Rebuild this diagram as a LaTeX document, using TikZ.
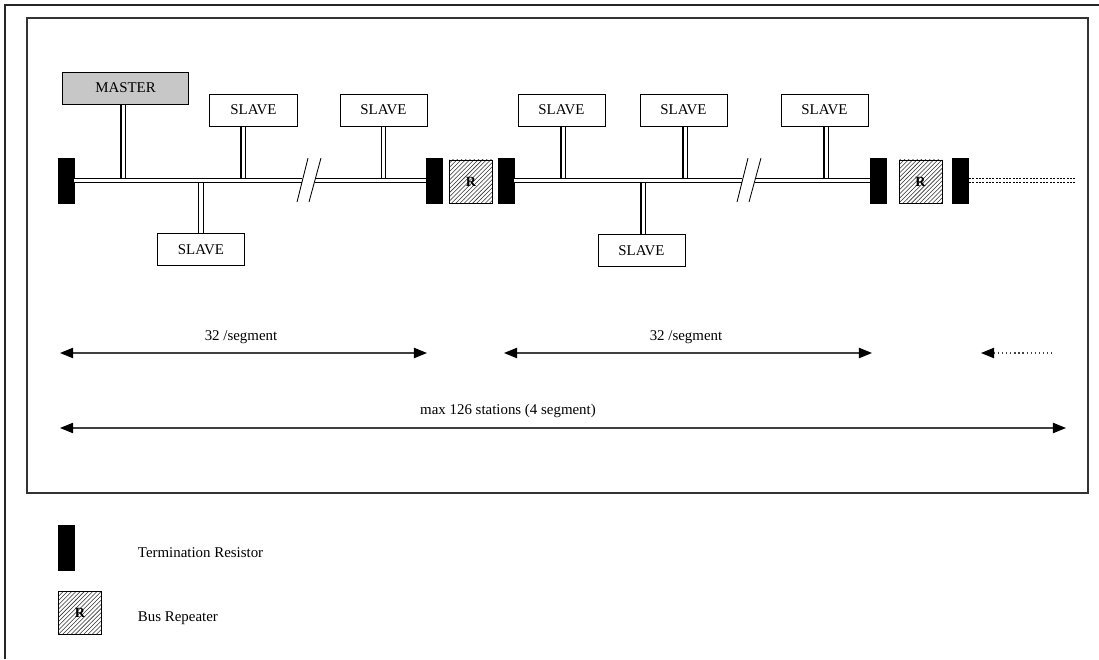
\documentclass[tikz,border=0pt]{standalone}
\usepackage{fontspec}
\setmainfont{Liberation Serif}
\usetikzlibrary{arrows.meta,patterns}

\tikzset{
  term/.style={draw=black, fill=black, minimum width=0.4cm, minimum height=1.125cm, inner sep=0pt},
  repeater/.style={draw=black, line width=0.7pt, pattern=north east lines, pattern color=black!80,
    minimum size=1.075cm, inner sep=0pt, font=\fontsize{10}{11}\selectfont\bfseries},
  station/.style={draw=black, line width=0.7pt, minimum width=2.175cm, minimum height=0.8cm, inner sep=0pt},
  bus/.style={double, line width=0.85pt, double distance=2.4pt},
  stub/.style={double, line width=0.8pt, double distance=2.2pt},
  tip/.tip={Triangle[length=0.33cm,width=0.26cm,color=black]},
  span/.style={draw=black!75, line width=0.9pt, tip-tip},
}

\begin{document}
\begin{tikzpicture}[x=0.025cm, y=-0.025cm, font=\fontsize{10.6}{13}\selectfont]
    \useasboundingbox (0,0) rectangle (1099,659);

    % frames
    \draw[line width=1pt, black!85] (5,659) -- (5,5) -- (1099,5);
    \draw[line width=0.9pt, black!80] (27,18) rectangle (1088,493);

    % terminators and repeaters
    \node[term] (t1) at (66,180.5) {};
    \node[term] (t2) at (434.5,180.5) {};
    \node[repeater] (r1) at (471,181.5) {R};
    \node[term] (t3) at (506,180.5) {};
    \node[term] (t4) at (878,180.5) {};
    \node[repeater] (r2) at (920.5,181.5) {R};
    \node[term] (t5) at (960.5,180.5) {};

    % stations
    \node[station, fill=black!22, minimum width=3.125cm] (master) at (125.5,88) {MASTER};
    \node[station] (s1) at (253.5,110) {SLAVE};
    \node[station] (s2) at (201,249.5) {SLAVE};
    \node[station] (s3) at (383.5,110) {SLAVE};
    \node[station] (s4) at (561.5,110) {SLAVE};
    \node[station] (s5) at (683.5,110) {SLAVE};
    \node[station] (s6) at (641.5,250.5) {SLAVE};
    \node[station] (s7) at (824.5,110) {SLAVE};

    % stubs to the bus
    \draw[stub] ([xshift=-0.06cm]master.south) -- ([xshift=-0.06cm]master.south |- t1.center);
    \draw[stub] ([xshift=-0.26cm]s1.south) -- ([xshift=-0.26cm]s1.south |- t1.center);
    \draw[stub] (s2.north) -- (s2.north |- t1.center);
    \draw[stub] (s3.south) -- (s3.south |- t1.center);
    \draw[stub] ([xshift=0.04cm]s4.south) -- ([xshift=0.04cm]s4.south |- t3.center);
    \draw[stub] ([xshift=0.04cm]s5.south) -- ([xshift=0.04cm]s5.south |- t3.center);
    \draw[stub] ([xshift=0.04cm]s6.north) -- ([xshift=0.04cm]s6.north |- t3.center);
    \draw[stub] ([xshift=0.04cm]s7.south) -- ([xshift=0.04cm]s7.south |- t3.center);

    % bus with breaks
    \coordinate (b1l) at (302,180.5);
    \coordinate (b1r) at (315,180.5);
    \coordinate (b2l) at (742,180.5);
    \coordinate (b2r) at (755,180.5);
    \coordinate (bend) at (1075,180.5);
    \draw[bus] (t1.east) -- (b1l);
    \draw[bus] (b1r) -- (t2.west);
    \draw[bus] (t3.east) -- (b2l);
    \draw[bus] (b2r) -- (t4.west);
    \draw[double, line width=1.1pt, double distance=1.6pt, dash pattern=on 1.4pt off 1pt] (t5.east) -- (bend);

    \draw[line width=0.6pt] (297,202) -- (308,158);
    \draw[line width=0.6pt] (309,202) -- (321,158);
    \draw[line width=0.6pt] (737,202) -- (748,158);
    \draw[line width=0.6pt] (749,202) -- (761,158);

    % spans
    \coordinate (a1l) at (60,353);
    \coordinate (a1r) at (427,353);
    \coordinate (a2l) at (504,353);
    \coordinate (a2r) at (872,353);
    \coordinate (a3l) at (981,353);
    \coordinate (a3r) at (1054,353);
    \coordinate (m1) at (60,428);
    \coordinate (m2) at (1066,428);
    \draw[span] (a1l) -- (a1r);
    \draw[span] (a2l) -- (a2r);
    \draw[draw=black!75, line width=0.9pt, dotted, tip-] (a3l) -- (a3r);
    \draw[span] (m1) -- (m2);
    \node (l1) at (241,337) {32 /segment};
    \node (l2) at (686,337) {32 /segment};
    \node (lm) at (508,411) {max 126 stations (4 segment)};

    % legend
    \node[term] (lt) at (66,547.5) {};
    \node[anchor=west] (ltx) at (133,553) {Termination Resistor};
    \node[repeater] (lr) at (80,613) {R};
    \node[anchor=west] (lrx) at (133,618) {Bus Repeater};
\end{tikzpicture}
\end{document}
